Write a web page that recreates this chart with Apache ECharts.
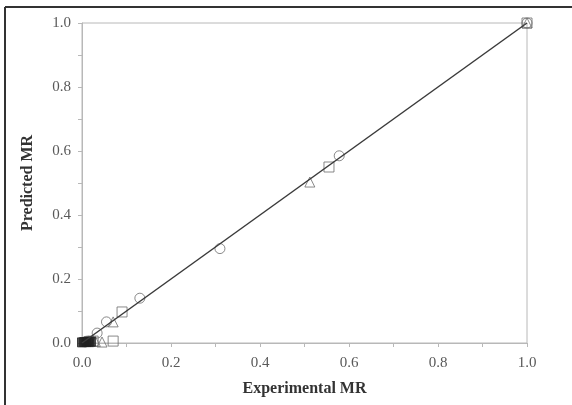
<!DOCTYPE html>
<html>
<head>
<meta charset="utf-8">
<script src="https://cdn.jsdelivr.net/npm/echarts@6/dist/echarts.min.js"></script>
<style>
  html, body { margin: 0; padding: 0; background: #fff; }
  #chart { width: 572px; height: 405px; }
</style>
</head>
<body>
<div id="chart"></div>
<script>
// experimental vs predicted MR
const circlePts = [[1.0, 1.0], [0.578, 0.585], [0.31, 0.295], [0.13, 0.14], [0.055, 0.066], [0.034, 0.031], [0.012, 0.006]];
const squarePts = [[1.0, 1.0], [0.555, 0.55], [0.09, 0.097], [0.07, 0.006], [0.025, 0.006], [0.015, 0.004]];
const trianglePts = [[1.0, 1.0], [0.512, 0.503], [0.07, 0.066], [0.045, 0.003], [0.03, 0.005]];
const filledPts = [[0.0, 0.002], [0.005, 0.003], [0.01, 0.003], [0.015, 0.004], [0.02, 0.004]];
const fitLine = [[0, 0], [1, 1]];

const serif = '"Liberation Serif", "DejaVu Serif", serif';

var myChart = echarts.init(document.getElementById('chart'));

function hollow(data, symbol, size) {
    return {
        type: 'scatter',
        data: data,
        symbol: symbol,
        symbolSize: size,
        itemStyle: { color: 'rgba(255,255,255,0)', borderColor: '#6b6b6b', borderWidth: 1 },
        silent: true
    };
}

// show a label only every 0.2 (ticks are every 0.1)
function tickLabel(v) {
    return Math.round(v * 10) % 2 ? '' : v.toFixed(1);
}

var option = {
    animation: false,
    grid: {
        left: 82, top: 23, right: 45, bottom: 62,
        show: true, borderColor: '#b8b8b8', borderWidth: 1
    },
    xAxis: {
        type: 'value', min: 0, max: 1, interval: 0.1,
        name: 'Experimental MR', nameLocation: 'middle', nameGap: 38,
        nameTextStyle: { fontFamily: serif, fontSize: 16, fontWeight: 'bold', color: '#333' },
        axisLine: { lineStyle: { color: '#b8b8b8' } },
        axisTick: { length: 4, lineStyle: { color: '#b8b8b8' } },
        axisLabel: { formatter: tickLabel, margin: 13, fontFamily: serif, fontSize: 15, color: '#595959' },
        splitLine: { show: false }
    },
    yAxis: {
        type: 'value', min: 0, max: 1, interval: 0.1,
        name: 'Predicted MR', nameLocation: 'middle', nameGap: 46,
        nameTextStyle: { fontFamily: serif, fontSize: 16, fontWeight: 'bold', color: '#333' },
        axisLine: { lineStyle: { color: '#b8b8b8' } },
        axisTick: { length: 4, lineStyle: { color: '#b8b8b8' } },
        axisLabel: { formatter: tickLabel, margin: 11, fontFamily: serif, fontSize: 15, color: '#595959' },
        splitLine: { show: false }
    },
    graphic: [
        { type: 'line', shape: { x1: 5, y1: 7, x2: 572, y2: 7 }, style: { stroke: '#333', lineWidth: 2 } },
        { type: 'line', shape: { x1: 5, y1: 7, x2: 5, y2: 405 }, style: { stroke: '#333', lineWidth: 2 } }
    ],
    series: [
        hollow(circlePts, 'circle', 10),
        hollow(squarePts, 'rect', 10),
        hollow(trianglePts, 'triangle', 10),
        {
            type: 'scatter', data: filledPts, symbol: 'rect', symbolSize: 9,
            itemStyle: { color: '#222', borderColor: '#222' }, silent: true
        },
        {
            type: 'line', data: fitLine, symbol: 'none', z: 5,
            lineStyle: { color: '#3a3a3a', width: 1.5 }, silent: true
        }
    ]
};

myChart.setOption(option);
</script>
</body>
</html>
